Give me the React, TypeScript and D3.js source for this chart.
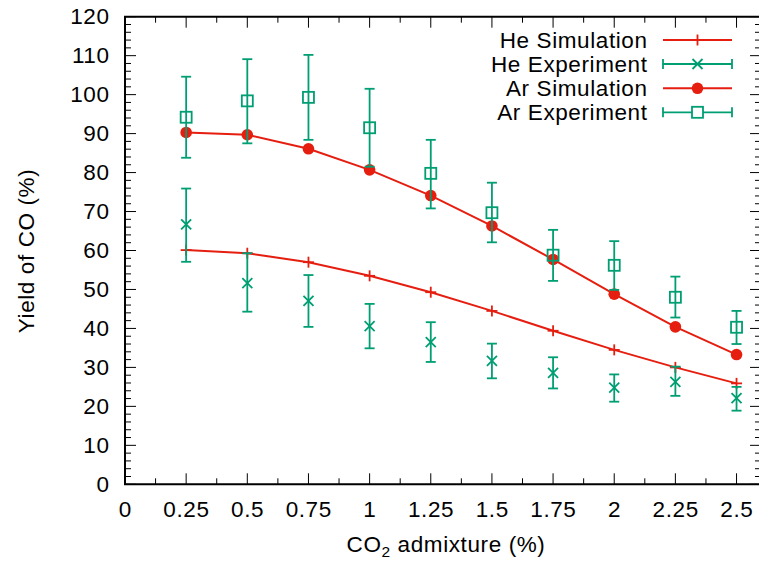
import React from "react";
import * as d3 from "d3";

const xValues = [0.25, 0.5, 0.75, 1, 1.25, 1.5, 1.75, 2, 2.25, 2.5];
const heSim = [60.1, 59.3, 57.0, 53.5, 49.3, 44.5, 39.4, 34.5, 30.0, 25.9];
const heExp = [66.7, 51.6, 47.1, 40.6, 36.5, 31.7, 28.6, 24.8, 26.3, 22.1];
const heExpLow = [57.1, 44.3, 40.4, 34.9, 31.4, 27.2, 24.6, 21.2, 22.7, 18.9];
const heExpHigh = [75.9, 59.3, 53.7, 46.3, 41.6, 36.1, 32.6, 28.2, 30.2, 25.0];
const arSim = [90.3, 89.7, 86.1, 80.7, 74.1, 66.3, 57.7, 48.8, 40.4, 33.3];
const arExp = [94.2, 98.4, 99.3, 91.5, 79.8, 69.7, 58.8, 56.2, 48.0, 40.3];
const arExpLow = [83.8, 87.5, 88.4, 81.5, 70.8, 62.1, 52.2, 49.9, 42.8, 36.0];
const arExpHigh = [104.6, 109.1, 110.2, 101.5, 88.4, 77.4, 65.3, 62.4, 53.3, 44.5];
const xTicks = [0, 0.25, 0.5, 0.75, 1, 1.25, 1.5, 1.75, 2, 2.25, 2.5];
const xTickLabels = ["0", "0.25", "0.5", "0.75", "1", "1.25", "1.5", "1.75", "2", "2.25", "2.5"];
const yTicks = [0, 10, 20, 30, 40, 50, 60, 70, 80, 90, 100, 110, 120];
const legendLabels = ["He Simulation", "He Experiment", "Ar Simulation", "Ar Experiment"];

const RED = "#e51e10";
const GREEN = "#009e73";
const FONT = "'Liberation Sans', Arial, Helvetica, sans-serif";
const FS = 22.5;
const LS = 0.6;

const W = 759;
const H = 561;
const L = 125;
const R = 761;
const T = 16.7;
const B = 484.3;

const x = d3.scaleLinear().domain([0, 2.6]).range([L, R]);
const y = d3.scaleLinear().domain([0, 120]).range([B, T]);

function Plus({ cx, cy, s = 5.5 }: { cx: number; cy: number; s?: number }) {
  return (
    <g stroke={RED} strokeWidth={1.8}>
      <line x1={cx - s} x2={cx + s} y1={cy} y2={cy} />
      <line x1={cx} x2={cx} y1={cy - s} y2={cy + s} />
    </g>
  );
}
function Cross({ cx, cy, s = 5 }: { cx: number; cy: number; s?: number }) {
  return (
    <g stroke={GREEN} strokeWidth={1.8}>
      <line x1={cx - s} x2={cx + s} y1={cy - s} y2={cy + s} />
      <line x1={cx - s} x2={cx + s} y1={cy + s} y2={cy - s} />
    </g>
  );
}
function Square({ cx, cy, s = 5.5 }: { cx: number; cy: number; s?: number }) {
  return <rect x={cx - s} y={cy - s} width={2 * s} height={2 * s} fill="none" stroke={GREEN} strokeWidth={1.8} />;
}
function Dot({ cx, cy }: { cx: number; cy: number }) {
  return <circle cx={cx} cy={cy} r={5.8} fill={RED} />;
}
function VErr({ cx, lo, hi }: { cx: number; lo: number; hi: number }) {
  return (
    <g stroke={GREEN} strokeWidth={1.8}>
      <line x1={cx} x2={cx} y1={y(lo)} y2={y(hi)} />
      <line x1={cx - 5} x2={cx + 5} y1={y(lo)} y2={y(lo)} />
      <line x1={cx - 5} x2={cx + 5} y1={y(hi)} y2={y(hi)} />
    </g>
  );
}

export default function App() {
  const line = d3
    .line<number>()
    .x((_, i) => x(xValues[i]))
    .y((d) => y(d));

  const xMinor = d3.range(0.125, 2.6, 0.25);
  const yMinor = d3.range(0, 121, 2).filter((v) => v % 10 !== 0);

  const legendRows = [40, 64, 88.3, 112.3];
  const lx1 = 663;
  const lx2 = 732;
  const lxm = (lx1 + lx2) / 2;

  return (
    <svg width={W} height={H} style={{ position: "absolute", left: 0, top: 0, background: "#fff" }} fontFamily={FONT}>
      {/* ticks */}
      <g stroke="#000" strokeWidth={1}>
        {xTicks.map((t) => (
          <g key={"xt" + t}>
            <line x1={x(t)} x2={x(t)} y1={B} y2={B - 11} />
            <line x1={x(t)} x2={x(t)} y1={T} y2={T + 11} />
          </g>
        ))}
        {xMinor.map((t) => (
          <g key={"xm" + t}>
            <line x1={x(t)} x2={x(t)} y1={B} y2={B - 6} />
            <line x1={x(t)} x2={x(t)} y1={T} y2={T + 6} />
          </g>
        ))}
        {yTicks.map((t) => (
          <g key={"yt" + t}>
            <line x1={L} x2={L + 11} y1={y(t)} y2={y(t)} />
            <line x1={R} x2={R - 11} y1={y(t)} y2={y(t)} />
          </g>
        ))}
        {yMinor.map((t) => (
          <g key={"ym" + t}>
            <line x1={L} x2={L + 6} y1={y(t)} y2={y(t)} />
            <line x1={R} x2={R - 6} y1={y(t)} y2={y(t)} />
          </g>
        ))}
      </g>
      {/* tick labels */}
      <g fontSize={FS} fill="#000" letterSpacing={LS}>
        {xTicks.map((t, i) => (
          <text key={"xl" + t} x={x(t) + LS / 2} y={509} textAnchor="middle" dominantBaseline="central">
            {xTickLabels[i]}
          </text>
        ))}
        {yTicks.map((t) => (
          <text key={"yl" + t} x={109 + LS} y={y(t)} textAnchor="end" dominantBaseline="central">
            {t}
          </text>
        ))}
      </g>
      {/* axis titles */}
      <text
        x={26}
        y={251}
        fontSize={FS}
        letterSpacing={LS}
        textAnchor="middle"
        dominantBaseline="central"
        transform="rotate(-90 26 251)"
      >
        Yield of CO (%)
      </text>
      <text x={446} y={552} fontSize={FS} letterSpacing={LS} textAnchor="middle">
        CO<tspan fontSize={15.5} dy={4.5}>2</tspan>
        <tspan dy={-4.5}> admixture (%)</tspan>
      </text>

      {/* series */}
      <path d={line(heSim) || ""} fill="none" stroke={RED} strokeWidth={2} />
      <path d={line(arSim) || ""} fill="none" stroke={RED} strokeWidth={2} />
      {xValues.map((xv, i) => (
        <Plus key={"hs" + i} cx={x(xv)} cy={y(heSim[i])} />
      ))}
      {xValues.map((xv, i) => (
        <g key={"he" + i}>
          <VErr cx={x(xv)} lo={heExpLow[i]} hi={heExpHigh[i]} />
          <Cross cx={x(xv)} cy={y(heExp[i])} />
        </g>
      ))}
      {xValues.map((xv, i) => (
        <Dot key={"as" + i} cx={x(xv)} cy={y(arSim[i])} />
      ))}
      {xValues.map((xv, i) => (
        <g key={"ae" + i}>
          <VErr cx={x(xv)} lo={arExpLow[i]} hi={arExpHigh[i]} />
          <Square cx={x(xv)} cy={y(arExp[i])} />
        </g>
      ))}

      {/* legend */}
      <g fontSize={FS} letterSpacing={LS}>
        {legendLabels.map((lab, i) => (
          <text key={lab} x={647 + LS} y={legendRows[i]} textAnchor="end" dominantBaseline="central">
            {lab}
          </text>
        ))}
      </g>
      <g>
        <line x1={lx1} x2={lx2} y1={legendRows[0]} y2={legendRows[0]} stroke={RED} strokeWidth={2} />
        <Plus cx={lxm} cy={legendRows[0]} />
        <g stroke={GREEN} strokeWidth={1.8}>
          <line x1={lx1} x2={lx2} y1={legendRows[1]} y2={legendRows[1]} />
          <line x1={lx1} x2={lx1} y1={legendRows[1] - 5} y2={legendRows[1] + 5} />
          <line x1={lx2} x2={lx2} y1={legendRows[1] - 5} y2={legendRows[1] + 5} />
        </g>
        <Cross cx={lxm} cy={legendRows[1]} />
        <line x1={lx1} x2={lx2} y1={legendRows[2]} y2={legendRows[2]} stroke={RED} strokeWidth={2} />
        <Dot cx={lxm} cy={legendRows[2]} />
        <g stroke={GREEN} strokeWidth={1.8}>
          <line x1={lx1} x2={lx2} y1={legendRows[3]} y2={legendRows[3]} />
          <line x1={lx1} x2={lx1} y1={legendRows[3] - 5} y2={legendRows[3] + 5} />
          <line x1={lx2} x2={lx2} y1={legendRows[3] - 5} y2={legendRows[3] + 5} />
        </g>
        <rect x={lxm - 5.5} y={legendRows[3] - 5.5} width={11} height={11} fill="#fff" stroke={GREEN} strokeWidth={1.8} />
      </g>

      {/* border */}
      <path d={`M${R},${T}H${L}V${B}H${R}`} fill="none" stroke="#000" strokeWidth={2} />
    </svg>
  );
}
